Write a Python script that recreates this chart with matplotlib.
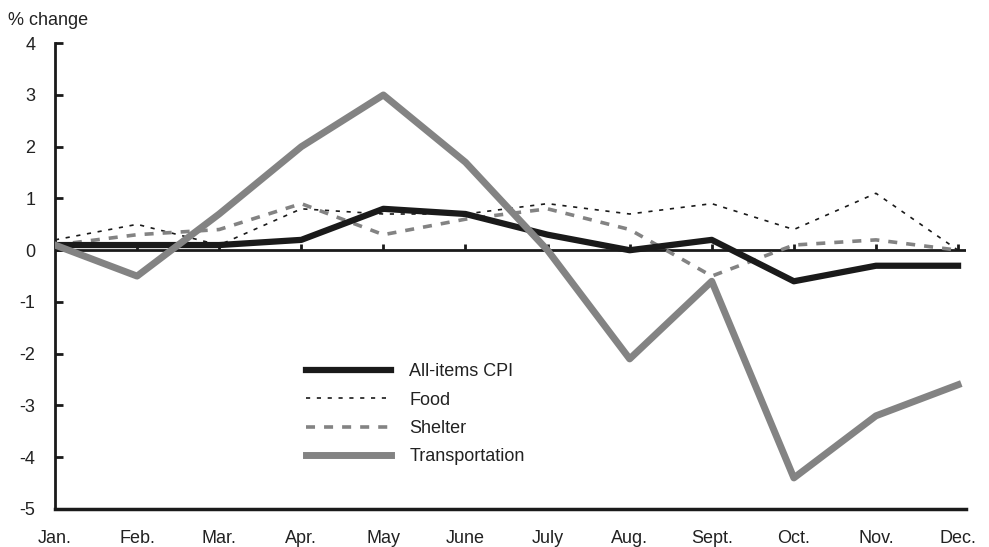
import matplotlib
matplotlib.use("Agg")
import matplotlib.pyplot as plt
import numpy as np

months = ['Jan.', 'Feb.', 'Mar.', 'Apr.', 'May', 'June', 'July', 'Aug.',
          'Sept.', 'Oct.', 'Nov.', 'Dec.']
all_items = [0.1, 0.1, 0.1, 0.2, 0.8, 0.7, 0.3, 0.0, 0.2, -0.6, -0.3, -0.3]
food = [0.2, 0.5, 0.1, 0.8, 0.7, 0.7, 0.9, 0.7, 0.9, 0.4, 1.1, 0.0]
shelter = [0.1, 0.3, 0.4, 0.9, 0.3, 0.6, 0.8, 0.4, -0.5, 0.1, 0.2, 0.0]
transport = [0.1, -0.5, 0.7, 2.0, 3.0, 1.7, 0.0, -2.1, -0.6, -4.4, -3.2, -2.6]

plt.rcParams['font.family'] = ['Liberation Sans', 'DejaVu Sans']
plt.rcParams['font.size'] = 13
plt.rcParams['axes.unicode_minus'] = False

black = '#1a1a1a'
gray = '#838383'
txt = '#222222'

fig = plt.figure(figsize=(9.89, 5.47), dpi=100)
ax = fig.add_axes([0.0556, 0.0695, 0.9214, 0.8515])
x = np.arange(len(months))

# zero line with small ticks at each month
ax.axhline(0, color=black, lw=2, zorder=1)
ax.vlines(x, 0, 0.12, color=black, lw=2, zorder=1)

ax.plot(x, all_items, color=black, lw=4.5, label='All-items CPI', zorder=3)
ax.plot(x, food, color=black, lw=1.2, ls=(0, (2.5, 4)), label='Food', zorder=2)
ax.plot(x, shelter, color=gray, lw=2.6, ls=(0, (2.5, 2.5)), label='Shelter', zorder=2)
ax.plot(x, transport, color=gray, lw=5, label='Transportation', zorder=4)

ax.set_xlim(0, 11.1)
ax.set_ylim(-5, 4)
ax.set_yticks(range(-5, 5))
ax.set_xticks(x)
ax.set_xticklabels(months)
ax.tick_params(axis='y', direction='in', length=6, width=2, color=black,
               pad=14, labelcolor=txt)
ax.tick_params(axis='x', length=0, pad=15, labelcolor=txt)
for s in ['top', 'right']:
    ax.spines[s].set_visible(False)
ax.spines['left'].set_linewidth(2)
ax.spines['bottom'].set_linewidth(2.5)
ax.spines['left'].set_color(black)
ax.spines['bottom'].set_color(black)

fig.text(0.008, 0.962, '% change', fontsize=13, ha='left', va='center', color=txt)

leg = ax.legend(loc='upper left', bbox_to_anchor=(0.258, 0.348), frameon=False,
                handlelength=4.7, handletextpad=1.0, labelspacing=0.63)
for t in leg.get_texts():
    t.set_color(txt)

fig.savefig('out.png', dpi=100)
